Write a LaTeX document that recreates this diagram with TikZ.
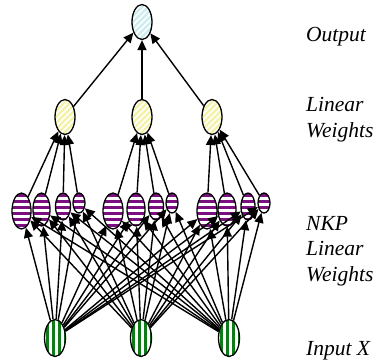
\documentclass[tikz,border=0pt]{standalone}
\usepackage{fontspec}
\setmainfont{Liberation Serif}
\usetikzlibrary{shapes.geometric,arrows.meta,calc}
\definecolor{stripepurple}{HTML}{7A1080}
\definecolor{stripegreen}{HTML}{0E7A18}
\definecolor{lightyellow}{HTML}{F2F2A8}
\definecolor{lightcyan}{HTML}{CDEDEE}
\tikzset{
  neuron/.style={ellipse, draw=black, line width=1.3pt, inner sep=0pt},
  hstripes/.style={path picture={
    \foreach \k in {0,...,7}{
      \fill[stripepurple] ($(path picture bounding box.north west)+(-2pt,-\k*6pt-1pt)$) rectangle ++(30pt,-3.2pt);}}},
  vstripes/.style={path picture={
    \foreach \k in {0,...,5}{
      \fill[stripegreen] ($(path picture bounding box.north west)+(\k*6pt+1pt,2pt)$) rectangle ++(3.2pt,-45pt);}}},
  dstripes/.style={fill=#1, path picture={
    \foreach \k in {-6,...,6}{
      \draw[white, line width=1.6pt] ($(path picture bounding box.center)+(\k*6pt-20pt,-20pt)$) -- ++(40pt,40pt);}}},
  edge/.style={draw=black, line width=1.4pt, -{Triangle[length=10pt,width=9pt]}},
  lbl/.style={anchor=base west, inner sep=0pt, font=\fontsize{21.5}{24}\selectfont\itshape}
}
\begin{document}
\begin{tikzpicture}[x=1pt,y=1pt]
\useasboundingbox (0,0) rectangle (382,-360);
% output
\node[neuron, dstripes=lightcyan, minimum width=20pt, minimum height=35pt] (out) at (142,-22) {};
% linear layer
\foreach \n/\x in {y1/65, y2/142, y3/212}
  \node[neuron, dstripes=lightyellow, minimum width=20pt, minimum height=35pt] (\n) at (\x,-117) {};
% NKP layer
\foreach \n/\x/\w/\h in {p1/21.5/19/36, p2/41.5/17/33, p3/63/15/27, p4/79/12/20,
                         p5/113/20/36, p6/136/18/33, p7/156/15/27, p8/172/12/20,
                         p9/207/20/36, p10/227/18/33, p11/248/14/27, p12/264/12/20}
  \node[neuron, fill=white, hstripes, minimum width=\w pt, minimum height=\h pt] (\n) at (\x,-193-\h/2) {};
% inputs
\foreach \n/\x in {g1/55, g2/141, g3/229}
  \node[neuron, fill=white, vstripes, minimum width=21pt, minimum height=37pt] (\n) at (\x,-338) {};
% edges input -> NKP
\foreach \g in {g1,g2,g3}
  \foreach \p in {p1,p2,p3,p4,p5,p6,p7,p8,p9,p10,p11,p12}
    \draw[edge] (\g) -- (\p);
% edges NKP -> linear
\foreach \p in {p1,p2,p3,p4} \draw[edge] (\p) -- (y1);
\foreach \p in {p5,p6,p7,p8} \draw[edge] (\p) -- (y2);
\foreach \p in {p9,p10,p11,p12} \draw[edge] (\p) -- (y3);
% edges linear -> output
\foreach \y in {y1,y2,y3} \draw[edge] (\y) -- (out);
% labels
\node[lbl] (t1) at (306,-41) {Output};
\node[lbl] (t2) at (306,-111) {Linear};
\node[lbl] (t3) at (306,-137) {Weights};
\node[lbl] (t4) at (306,-230) {NKP};
\node[lbl] (t5) at (306,-255) {Linear};
\node[lbl] (t6) at (306,-281) {Weights};
\node[lbl] (t7) at (306,-355) {Input X};
\end{tikzpicture}
\end{document}
